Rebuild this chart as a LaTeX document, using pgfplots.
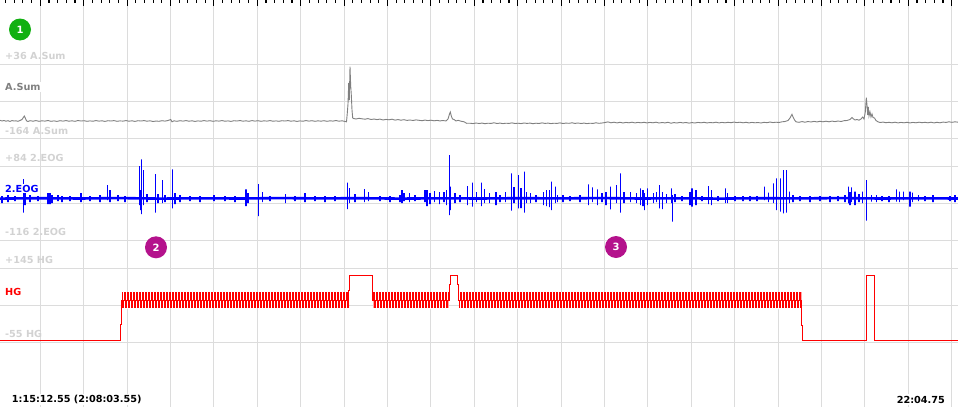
\documentclass[border=0pt]{standalone}
\usepackage{pgfplots}
\pgfplotsset{compat=1.18}
\usetikzlibrary{patterns.meta}
\usepackage{fontspec}
\setmainfont{DejaVu Sans}
\definecolor{gridc}{HTML}{DCDCDC}
\definecolor{lightlbl}{HTML}{D2D2D2}
\definecolor{sumgray}{HTML}{808080}
\definecolor{eogblue}{HTML}{0000FF}
\definecolor{hgred}{HTML}{FF0000}
\definecolor{cgreen}{HTML}{12B012}
\definecolor{cmag}{HTML}{B4128C}
\newcommand{\lf}{\fontsize{9.7}{11}\selectfont\bfseries}
\begin{document}
\begin{tikzpicture}
\begin{axis}[
  scale only axis, width=958pt, height=407pt,
  xmin=0, xmax=958, ymin=0, ymax=407, y dir=reverse,
  axis line style={draw=none},
  xtick pos=right, ytick pos=left,
  xtick={40.3,83.7,127.1,170.5,213.9,257.3,300.7,344.1,387.5,430.9,474.3,517.7,561.1,604.5,647.9,691.3,734.7,778.1,821.5,864.9,908.3,951.7},
  minor xtick={5.58,14.26,...,958},
  ytick={64.3,101.3,138.3,166.7,203.5,240.3,268.7,305.5,342.3},
  xticklabel=\empty, yticklabel=\empty,
  xmajorgrids, ymajorgrids,
  grid style={gridc, line width=1pt},
  tick align=inside,
  major tick length=6pt, minor tick length=3.4pt,
  every tick/.style={black, line width=1.1pt},
  y tick style={draw=none},
]
\coordinate (ll) at (rel axis cs:0,0);
\coordinate (ur) at (rel axis cs:1,1);

% A.Sum
\addplot[sumgray, line width=0.9pt] coordinates {
(0,120.3)(2,121)(4,120.5)(6,121.2)(8,120.7)(10,121.4)(12,120.6)(14,121)(16,120.8)(18,121.3)(20,120.5)(22,119.5)(24.3,116)(25.5,118.5)(26.5,120.8)(28,121.5)(30,120.7)(33,121.2)(36,120.6)(39,121.3)(42,120.8)(45,121.1)(48,120.5)(51,121.3)(54,120.9)(57,121.4)(60,120.7)(63,121.1)(66,120.6)(69,121.2)(72,120.8)(75,121.3)(78,120.5)(81,121)(84,120.7)(87,121.3)(90,120.9)(93,121.2)(96,120.6)(99,121.1)(102,120.8)(105,121.4)(108,120.7)(111,121)(114,120.6)(117,121.3)(120,120.9)(123,121.1)(126,120.6)(129,121.2)(132,120.8)(135,121.4)(138,120.7)(141,121)(144,120.6)(147,121.2)(150,120.8)(153,121.5)(156,121)(159,121.3)(162,120.7)(165,121.1)(168,120.5)(170.7,119.5)(172,121.8)(174,120.8)(177,121.3)(180,120.7)(183,121.1)(186,120.6)(189,121.2)(192,120.8)(195,121.4)(198,120.9)(201,121.2)(204,120.6)(207,121.1)(210,120.7)(213,121.3)(216,120.8)(219,121.1)(222,120.6)(225,121.2)(228,120.9)(231,121.4)(234,120.7)(237,121)(240,120.5)(243,121.2)(246,120.8)(249,121.3)(252,120.6)(255,121.1)(258,120.7)(261,121.3)(264,120.8)(267,121.1)(270,120.6)(273,121.2)(276,120.9)(279,121.3)(282,120.7)(285,121)(288,120.6)(291,121.2)(294,120.8)(297,121.4)(300,120.9)(303,121.2)(306,120.6)(309,121.1)(312,120.7)(315,121.3)(318,120.8)(321,121.2)(324,120.7)(327,121.3)(330,120.8)(333,121.1)(336,120.5)(339,121.2)(342,120.8)(345,121.4)(346.5,121.8)(347.3,113)(348,104)(348.7,83)(349.3,100)(350,66.7)(350.7,86)(351.3,95)(352,110)(352.7,118)(353.5,118.5)(356,119)(359,118.3)(362,118.8)(365,119.2)(368,118.6)(371,119.5)(374,119)(377,119.6)(380,119.1)(383,120)(386,119.4)(389,119.8)(392,119.2)(395,120.1)(398,119.6)(401,120.2)(404,119.7)(407,120.4)(410,120)(413,120.5)(416,119.9)(419,120.3)(422,120.7)(425,120.1)(428,120.6)(431,120.2)(434,120.8)(437,120.4)(440,120.9)(443,120.5)(446,121)(448,119)(449.5,114)(450.3,112)(451.3,116)(452.5,119)(454,119.5)(456,121)(458,120.3)(461,121.2)(464,121.8)(466.7,123.3)(470,123.2)(473,123.6)(476,123)(479,123.5)(482,123.1)(485,123.7)(488,123.2)(491,123.4)(494,122.8)(497,123.5)(500,123.1)(503,123.6)(506,123.2)(509,123.4)(512,122.9)(515,123.5)(518,123.2)(521,123.6)(524,123)(527,123.4)(530,123.1)(533,123.7)(536,123.2)(539,123.5)(542,122.9)(545,123.4)(548,123.1)(551,123.6)(554,123.2)(557,123.4)(560,122.9)(563,123.5)(566,123.1)(569,123.3)(572,122.8)(575,123.4)(578,123)(581,123.5)(584,123.1)(587,123.6)(590,123.2)(593,123.4)(596,122.8)(599,123.3)(602,123)(605,122.5)(608,121.9)(611,122.8)(614,122.2)(617,122.9)(620,122.3)(623,123)(626,122.4)(629,122.8)(632,122.2)(635,122.9)(638,122.4)(641,122.8)(644,122.3)(647,122.9)(650,122.4)(653,122.8)(656,122.2)(659,123)(662,122.5)(665,122.9)(668,122.3)(671,123.2)(674,122.6)(677,123)(680,122.4)(683,122.9)(686,122.5)(689,123.1)(692,122.6)(695,123)(698,122.4)(701,122.8)(704,122.3)(707,122.9)(710,122.5)(713,122.8)(716,122.2)(719,122.9)(722,122.4)(725,122.8)(728,122.3)(731,122.7)(734,122.1)(737,122.6)(740,122.2)(743,122.8)(746,122.3)(749,122.9)(752,122.4)(755,122.8)(758,122.5)(761,123)(764,122.3)(767,122.7)(770,122)(773,122.6)(776,122.2)(779,122.5)(782,121.8)(785,121.5)(788,120.5)(790,118)(791,116)(792,114.3)(793,117)(794.5,120)(796,121.8)(799,122.3)(802,121.6)(805,122.2)(808,121.5)(811,122)(814,121.4)(817,121.9)(820,121.3)(823,121.8)(826,121.2)(829,121.8)(832,121.1)(835,121.6)(838,121)(841,121.5)(844,120.7)(847,120.5)(850,119.5)(852,117.5)(853.3,118.8)(855,120)(857,119.5)(859,120.2)(861,119)(862.7,117)(864,119)(865.3,112)(866.3,97.7)(867,105)(867.7,115)(868.3,107)(869,116)(870,112)(871,117)(872,114)(873,117.5)(874.5,118)(876,120.5)(878,121.8)(880,122.5)(883,122.1)(886,122.7)(889,122.3)(892,122.8)(895,122.2)(898,122.9)(901,122.4)(904,122.8)(907,122.3)(910,122.9)(913,122.4)(916,122.8)(919,122.2)(922,122.7)(925,122.3)(928,122.8)(931,122.2)(934,122.9)(937,122.3)(940,122.8)(943,122.1)(946,122.4)(949,121.8)(952,122.3)(955,121.8)(958,122.2)
};

% 2.EOG baseline
\addplot[eogblue, line width=2.6pt] coordinates {
(0,198.6)(40,198.2)(80,198.5)(120,198.1)(160,198.6)(200,198.3)(240,198.5)(280,198.1)(320,198.4)(360,198.2)(400,198.6)(440,198.3)(480,198.5)(520,198.2)(560,198.4)(600,198.1)(640,198.5)(680,198.3)(720,198.6)(760,198.2)(800,198.4)(840,198.1)(880,198.5)(920,198.3)(958,198.5)
};
% 2.EOG spikes
\addplot[eogblue, line width=1.4pt] coordinates {
(2,198.3)(2,196)(2,203)(2,198.3)
(8,198.3)(8,195)(8,202)(8,198.3)
(15,198.3)(15,196)(15,201)(15,198.3)
(23.3,198.3)(23.3,179)(23.3,212.7)(23.3,198.3)
(25,198.3)(25,192)(25,205)(25,198.3)
(30,198.3)(30,195)(30,202)(30,198.3)
(38,198.3)(38,196)(38,201)(38,198.3)
(48,198.3)(48,193)(48,204)(48,198.3)
(50,198.3)(50,193)(50,204)(50,198.3)
(52,198.3)(52,195)(52,203)(52,198.3)
(58,198.3)(58,195)(58,201)(58,198.3)
(62,198.3)(62,196)(62,202)(62,198.3)
(70,198.3)(70,196)(70,201)(70,198.3)
(81,198.3)(81,193)(81,202)(81,198.3)
(90,198.3)(90,196)(90,201)(90,198.3)
(100,198.3)(100,195)(100,202)(100,198.3)
(107.3,198.3)(107.3,185)(107.3,200)(107.3,198.3)
(110,198.3)(110,190)(110,202)(110,198.3)
(118,198.3)(118,195)(118,201)(118,198.3)
(125,198.3)(125,196)(125,202)(125,198.3)
(139.3,198.3)(139.3,166)(139.3,205)(139.3,198.3)
(140.5,198.3)(140.5,190)(140.5,210)(140.5,198.3)
(141.7,198.3)(141.7,159.3)(141.7,214)(141.7,198.3)
(143.3,198.3)(143.3,170)(143.3,205)(143.3,198.3)
(147,198.3)(147,194)(147,202)(147,198.3)
(155.3,198.3)(155.3,174)(155.3,212.7)(155.3,198.3)
(158,198.3)(158,194)(158,203)(158,198.3)
(162.7,198.3)(162.7,180)(162.7,203)(162.7,198.3)
(165,198.3)(165,195)(165,202)(165,198.3)
(172.3,198.3)(172.3,169.3)(172.3,208.3)(172.3,198.3)
(175,198.3)(175,193)(175,204)(175,198.3)
(180,198.3)(180,195)(180,202)(180,198.3)
(190,198.3)(190,196)(190,201)(190,198.3)
(200,198.3)(200,196)(200,202)(200,198.3)
(214,198.3)(214,195)(214,201)(214,198.3)
(225,198.3)(225,196)(225,201)(225,198.3)
(235,198.3)(235,196)(235,202)(235,198.3)
(246,198.3)(246,189.3)(246,206)(246,198.3)
(248,198.3)(248,193)(248,203)(248,198.3)
(258.3,198.3)(258.3,184)(258.3,216)(258.3,198.3)
(262.7,198.3)(262.7,192)(262.7,202)(262.7,198.3)
(270,198.3)(270,196)(270,201)(270,198.3)
(285.7,198.3)(285.7,194)(285.7,203)(285.7,198.3)
(295,198.3)(295,196)(295,201)(295,198.3)
(305,198.3)(305,193)(305,202)(305,198.3)
(315,198.3)(315,196)(315,201)(315,198.3)
(325,198.3)(325,196)(325,202)(325,198.3)
(335,198.3)(335,196)(335,201)(335,198.3)
(347.3,198.3)(347.3,182.7)(347.3,209)(347.3,198.3)
(349.3,198.3)(349.3,188)(349.3,203)(349.3,198.3)
(355,198.3)(355,194)(355,202)(355,198.3)
(364.3,198.3)(364.3,189)(364.3,202)(364.3,198.3)
(368.7,198.3)(368.7,192)(368.7,201)(368.7,198.3)
(380,198.3)(380,196)(380,201)(380,198.3)
(390,198.3)(390,196)(390,202)(390,198.3)
(400,198.3)(400,195)(400,202)(400,198.3)
(402,198.3)(402,190)(402,203)(402,198.3)
(404,198.3)(404,193)(404,201)(404,198.3)
(409.3,198.3)(409.3,193)(409.3,202)(409.3,198.3)
(415,198.3)(415,195)(415,201)(415,198.3)
(425,198.3)(425,190)(425,202)(425,198.3)
(427,198.3)(427,190)(427,206)(427,198.3)
(430,198.3)(430,193)(430,204)(430,198.3)
(434.3,198.3)(434.3,191)(434.3,202)(434.3,198.3)
(439.3,198.3)(439.3,192)(439.3,204)(439.3,198.3)
(444,198.3)(444,192)(444,202)(444,198.3)
(446.7,198.3)(446.7,190)(446.7,205)(446.7,198.3)
(449.3,198.3)(449.3,155)(449.3,215)(449.3,198.3)
(450.7,198.3)(450.7,186.7)(450.7,210)(450.7,198.3)
(455,198.3)(455,193)(455,203)(455,198.3)
(460,198.3)(460,195)(460,202)(460,198.3)
(467.7,198.3)(467.7,186)(467.7,205)(467.7,198.3)
(472.7,198.3)(472.7,182.7)(472.7,206.7)(472.7,198.3)
(476.7,198.3)(476.7,192)(476.7,202)(476.7,198.3)
(481.3,198.3)(481.3,182.7)(481.3,206)(481.3,198.3)
(484.3,198.3)(484.3,189)(484.3,203)(484.3,198.3)
(489.3,198.3)(489.3,193)(489.3,203)(489.3,198.3)
(496,198.3)(496,192)(496,205)(496,198.3)
(500,198.3)(500,195)(500,202)(500,198.3)
(505.3,198.3)(505.3,192)(505.3,202)(505.3,198.3)
(511.7,198.3)(511.7,173.3)(511.7,210.7)(511.7,198.3)
(514,198.3)(514,187)(514,203)(514,198.3)
(518.7,198.3)(518.7,175)(518.7,208.3)(518.7,198.3)
(521,198.3)(521,188)(521,208)(521,198.3)
(524.7,198.3)(524.7,171.7)(524.7,212.7)(524.7,198.3)
(526.7,198.3)(526.7,192)(526.7,203)(526.7,198.3)
(530.7,198.3)(530.7,193)(530.7,203)(530.7,198.3)
(536,198.3)(536,195)(536,202)(536,198.3)
(543.3,198.3)(543.3,192)(543.3,205)(543.3,198.3)
(546.7,198.3)(546.7,190)(546.7,206)(546.7,198.3)
(549.3,198.3)(549.3,190)(549.3,207)(549.3,198.3)
(551.3,198.3)(551.3,181.7)(551.3,210)(551.3,198.3)
(555.3,198.3)(555.3,186.7)(555.3,203)(555.3,198.3)
(557.3,198.3)(557.3,195)(557.3,202)(557.3,198.3)
(563,198.3)(563,195)(563,202)(563,198.3)
(570,198.3)(570,196)(570,201)(570,198.3)
(580,198.3)(580,195)(580,202)(580,198.3)
(588.3,198.3)(588.3,184.3)(588.3,205)(588.3,198.3)
(592.7,198.3)(592.7,187.3)(592.7,202)(592.7,198.3)
(597.7,198.3)(597.7,189.3)(597.7,205)(597.7,198.3)
(602,198.3)(602,193)(602,202)(602,198.3)
(606,198.3)(606,192)(606,205)(606,198.3)
(610.7,198.3)(610.7,186.7)(610.7,209.3)(610.7,198.3)
(616.3,198.3)(616.3,185)(616.3,203)(616.3,198.3)
(620.7,198.3)(620.7,173.3)(620.7,212.7)(620.7,198.3)
(624,198.3)(624,192)(624,203)(624,198.3)
(630.7,198.3)(630.7,192)(630.7,202)(630.7,198.3)
(636.7,198.3)(636.7,193)(636.7,203)(636.7,198.3)
(640.5,198.3)(640.5,188.3)(640.5,205)(640.5,198.3)
(643,198.3)(643,190)(643,206)(643,198.3)
(644.5,198.3)(644.5,193)(644.5,210)(644.5,198.3)
(647.3,198.3)(647.3,188.3)(647.3,205)(647.3,198.3)
(653.3,198.3)(653.3,193)(653.3,203)(653.3,198.3)
(656.7,198.3)(656.7,192)(656.7,202)(656.7,198.3)
(659.3,198.3)(659.3,185)(659.3,208.3)(659.3,198.3)
(662.7,198.3)(662.7,192)(662.7,209)(662.7,198.3)
(666.7,198.3)(666.7,194)(666.7,203)(666.7,198.3)
(671.7,198.3)(671.7,188.3)(671.7,203)(671.7,198.3)
(672.7,198.3)(672.7,195)(672.7,221.7)(672.7,198.3)
(675,198.3)(675,194)(675,202)(675,198.3)
(682,198.3)(682,196)(682,201)(682,198.3)
(690,198.3)(690,192)(690,205)(690,198.3)
(692,198.3)(692,188.3)(692,206.7)(692,198.3)
(696,198.3)(696,190)(696,205)(696,198.3)
(702,198.3)(702,196)(702,201)(702,198.3)
(708.3,198.3)(708.3,186)(708.3,204)(708.3,198.3)
(711.7,198.3)(711.7,190)(711.7,205)(711.7,198.3)
(718,198.3)(718,196)(718,201)(718,198.3)
(725.7,198.3)(725.7,188.3)(725.7,203)(725.7,198.3)
(727.7,198.3)(727.7,193)(727.7,203)(727.7,198.3)
(735,198.3)(735,196)(735,201)(735,198.3)
(743,198.3)(743,196)(743,201)(743,198.3)
(750,198.3)(750,196)(750,201)(750,198.3)
(757,198.3)(757,196)(757,201)(757,198.3)
(764.3,198.3)(764.3,186.7)(764.3,200)(764.3,198.3)
(768.7,198.3)(768.7,192.7)(768.7,202)(768.7,198.3)
(773.3,198.3)(773.3,183.3)(773.3,203)(773.3,198.3)
(776.3,198.3)(776.3,178.3)(776.3,210)(776.3,198.3)
(780.3,198.3)(780.3,178.3)(780.3,211.7)(780.3,198.3)
(783.3,198.3)(783.3,170)(783.3,213.3)(783.3,198.3)
(786.3,198.3)(786.3,170)(786.3,212.7)(786.3,198.3)
(789.3,198.3)(789.3,191.7)(789.3,203)(789.3,198.3)
(793,198.3)(793,195)(793,202)(793,198.3)
(800,198.3)(800,196)(800,201)(800,198.3)
(810,198.3)(810,196)(810,202)(810,198.3)
(820,198.3)(820,196)(820,201)(820,198.3)
(830,198.3)(830,196)(830,202)(830,198.3)
(838,198.3)(838,196)(838,201)(838,198.3)
(845,198.3)(845,195)(845,202)(845,198.3)
(848.7,198.3)(848.7,186.7)(848.7,203.3)(848.7,198.3)
(850,198.3)(850,192)(850,205)(850,198.3)
(851.7,198.3)(851.7,187.3)(851.7,202)(851.7,198.3)
(855,198.3)(855,191.7)(855,205)(855,198.3)
(859,198.3)(859,194)(859,202)(859,198.3)
(862.7,198.3)(862.7,191.7)(862.7,203)(862.7,198.3)
(866.3,198.3)(866.3,180)(866.3,220.7)(866.3,198.3)
(871.7,198.3)(871.7,195)(871.7,201.7)(871.7,198.3)
(876.7,198.3)(876.7,195)(876.7,202)(876.7,198.3)
(882,198.3)(882,196)(882,201)(882,198.3)
(889,198.3)(889,196)(889,202)(889,198.3)
(896.7,198.3)(896.7,189.3)(896.7,201.7)(896.7,198.3)
(899.3,198.3)(899.3,191.7)(899.3,202)(899.3,198.3)
(903.3,198.3)(903.3,191.7)(903.3,200)(903.3,198.3)
(910,198.3)(910,191.7)(910,206.7)(910,198.3)
(912.7,198.3)(912.7,192.7)(912.7,202)(912.7,198.3)
(918.3,198.3)(918.3,195)(918.3,201)(918.3,198.3)
(925,198.3)(925,196)(925,201)(925,198.3)
(933,198.3)(933,195)(933,202)(933,198.3)
(950,198.3)(950,196)(950,201)(950,198.3)
(955,198.3)(955,195)(955,202)(955,198.3)
};

% HG dense band segments
\addplot[draw=none, fill=hgred] coordinates {(121.7,292)(348.7,292)(348.7,308)(121.7,308)} -- cycle;
\addplot[draw=none, fill=hgred] coordinates {(373.3,292)(448.7,292)(448.7,308)(373.3,308)} -- cycle;
\addplot[draw=none, fill=hgred] coordinates {(459,292)(801.7,292)(801.7,308)(459,308)} -- cycle;
\addplot[draw=none, pattern={Lines[angle=90,distance=3pt,line width=0.9pt]}, pattern color=white] coordinates {(121.7,292)(348.7,292)(348.7,300)(121.7,300)} -- cycle;
\addplot[draw=none, pattern={Lines[angle=90,distance=3pt,line width=0.9pt]}, pattern color=white] coordinates {(373.3,292)(448.7,292)(448.7,300)(373.3,300)} -- cycle;
\addplot[draw=none, pattern={Lines[angle=90,distance=3pt,line width=0.9pt]}, pattern color=white] coordinates {(459,292)(801.7,292)(801.7,300)(459,300)} -- cycle;
\addplot[draw=none, pattern={Lines[angle=90,distance=3pt,line width=0.9pt,xshift=1.5pt]}, pattern color=white] coordinates {(121.7,300.6)(348.7,300.6)(348.7,308)(121.7,308)} -- cycle;
\addplot[draw=none, pattern={Lines[angle=90,distance=3pt,line width=0.9pt,xshift=1.5pt]}, pattern color=white] coordinates {(373.3,300.6)(448.7,300.6)(448.7,308)(373.3,308)} -- cycle;
\addplot[draw=none, pattern={Lines[angle=90,distance=3pt,line width=0.9pt,xshift=1.5pt]}, pattern color=white] coordinates {(459,300.6)(801.7,300.6)(801.7,308)(459,308)} -- cycle;

% HG line
\addplot[hgred, line width=1pt] coordinates {
(0,340)(120.3,340)(120.3,324)(121.5,324)(121.5,300)(348.7,300)(348.7,290.7)(349.3,290.7)(349.3,275)(372.3,275)(372.3,300)(449.3,300)(449.3,284)(450.3,284)(450.3,275)(457.3,275)(457.3,284)(458.3,284)(458.3,300)(801.7,300)(801.7,325)(802.3,325)(802.3,340)(866.3,340)(866.3,275)(874.3,275)(874.3,340)(958,340)
};

% labels
\node[anchor=west, text=lightlbl, font=\lf, inner sep=0pt] at (axis cs:5,56) {+36 A.Sum};
\node[anchor=west, text=sumgray, font=\lf, fill=white, inner sep=1.2pt] at (axis cs:3.8,87) {A.Sum};
\node[anchor=west, text=lightlbl, font=\lf, inner sep=0pt] at (axis cs:5,130.5) {-164 A.Sum};
\node[anchor=west, text=lightlbl, font=\lf, inner sep=0pt] at (axis cs:5,158) {+84 2.EOG};
\node[anchor=west, text=eogblue, font=\lf, fill=white, inner sep=1.2pt] at (axis cs:3.8,188.5) {2.EOG};
\node[anchor=west, text=lightlbl, font=\lf, inner sep=0pt] at (axis cs:5,232) {-116 2.EOG};
\node[anchor=west, text=lightlbl, font=\lf, inner sep=0pt] at (axis cs:5,260) {+145 HG};
\node[anchor=west, text=hgred, font=\lf, fill=white, inner sep=1.2pt] at (axis cs:3.8,291.5) {HG};
\node[anchor=west, text=lightlbl, font=\lf, inner sep=0pt] at (axis cs:5,333.7) {-55 HG};
\node[anchor=west, text=black, font=\lf, fill=white, inner sep=1.5pt] at (axis cs:10.2,399.5) {1:15:12.55 (2:08:03.55)};
\node[anchor=east, text=black, font=\lf, fill=white, inner sep=1.5pt] at (axis cs:946.5,399.5) {22:04.75};

% numbered markers
\node[circle, fill=cgreen, minimum size=22pt, inner sep=0pt, text=white, font=\fontsize{10}{11}\selectfont\bfseries] at (axis cs:20,29.5) {1};
\node[circle, fill=cmag, minimum size=22pt, inner sep=0pt, text=white, font=\fontsize{10}{11}\selectfont\bfseries] at (axis cs:156,247.3) {2};
\node[circle, fill=cmag, minimum size=22pt, inner sep=0pt, text=white, font=\fontsize{10}{11}\selectfont\bfseries] at (axis cs:616,247) {3};
\end{axis}
\pgfresetboundingbox
\useasboundingbox (ll) rectangle (ur);
\end{tikzpicture}
\end{document}
